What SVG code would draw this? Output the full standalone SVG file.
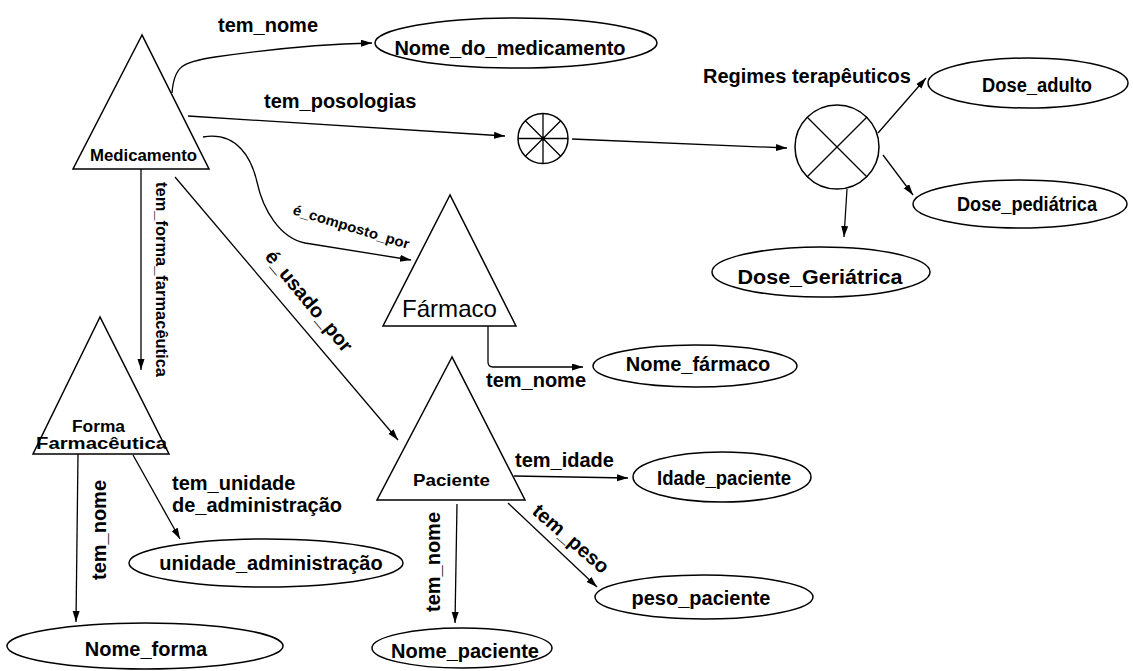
<svg xmlns="http://www.w3.org/2000/svg" width="1133" height="671" viewBox="0 0 1133 671">
  <style>
    .shape { fill: none; stroke: #000; stroke-width: 1.5; }
    .conn { fill: none; stroke: #000; stroke-width: 1.3; marker-end: url(#arrow); }
    .line { fill: none; stroke: #000; stroke-width: 1.3; }
    text { font-family: "Liberation Sans", Arial, sans-serif; font-weight: bold; fill: #000; }
    .lbl { font-size: 20px; }
    .val { font-size: 20px; text-anchor: middle; }
    .cls { font-size: 16px; }
    .big { font-size: 24px; font-weight: normal; }
  </style>
  <defs>
    <marker id="arrow" markerUnits="userSpaceOnUse" markerWidth="12" markerHeight="8" refX="11" refY="3.5" orient="auto">
      <path d="M0,0 L11,3.5 L0,7 z" fill="#000"/>
    </marker>
  </defs>
  <rect width="1133" height="671" fill="#fff"/>

  <!-- connectors -->
  <g id="connectors">
    <path class="conn" d="M172,93 C174,66 182,62 215,57 C270,49 330,44 372,43"/>
    <path class="conn" d="M188,116 L505,136"/>
    <path class="conn" d="M572,139 L787,148"/>
    <path class="conn" d="M878,133 L926,78"/>
    <path class="conn" d="M883,155 L913,195"/>
    <path class="conn" d="M847,189 L844,237"/>
    <path class="conn" d="M203,137 C238,131 252,160 257,182 C263,210 280,238 305,243 L411,260"/>
    <path class="conn" d="M175,177 L398,440"/>
    <path class="conn" d="M141,169 L141,370"/>
    <path class="conn" d="M78,454 L76,622"/>
    <path class="conn" d="M133,455 L180,539"/>
    <path class="conn" d="M488,326 L488,362 Q488,367 493,367 L583,367"/>
    <path class="conn" d="M514,476 L628,478"/>
    <path class="conn" d="M508,503 L597,587"/>
    <path class="conn" d="M457,504 L455,623"/>

    <text class="lbl" x="218" y="32">tem_nome</text>
    <text class="lbl" x="264" y="108">tem_posologias</text>
    <text class="lbl" x="703" y="83">Regimes terapêuticos</text>
    <text font-size="14" transform="translate(292,214) rotate(16.8)" textLength="121" lengthAdjust="spacingAndGlyphs">é_composto_por</text>
    <text class="lbl" transform="translate(264,257) rotate(50.5)" textLength="125" lengthAdjust="spacingAndGlyphs">é_usado_por</text>
    <text font-size="16.5" transform="translate(156,182) rotate(90)" textLength="195" lengthAdjust="spacingAndGlyphs">tem_forma_farmacêutica</text>
    <text class="lbl" transform="translate(106,580) rotate(-90)" textLength="100" lengthAdjust="spacingAndGlyphs">tem_nome</text>
    <text class="lbl" x="172" y="490">tem_unidade</text>
    <text class="lbl" x="172" y="512">de_administração</text>
    <text class="lbl" x="486" y="387">tem_nome</text>
    <text class="lbl" x="515" y="467">tem_idade</text>
    <text class="lbl" transform="translate(531,513) rotate(41)" textLength="94" lengthAdjust="spacingAndGlyphs">tem_peso</text>
    <text class="lbl" transform="translate(440,612) rotate(-90)" textLength="100" lengthAdjust="spacingAndGlyphs">tem_nome</text>
  </g>

  <!-- class nodes (triangles) -->
  <g id="medicamento">
    <path class="shape" d="M142,35 L73,169 L209,169 Z"/>
    <text class="cls" x="90" y="161" textLength="107" lengthAdjust="spacingAndGlyphs">Medicamento</text>
  </g>
  <g id="farmaco">
    <path class="shape" d="M450,195 L383,326 L516,326 Z"/>
    <text class="big" x="402" y="317" textLength="95" lengthAdjust="spacingAndGlyphs">Fármaco</text>
  </g>
  <g id="forma-farmaceutica">
    <path class="shape" d="M100,317 L33,454 L169,454 Z"/>
    <text class="cls" x="72" y="432" textLength="53" lengthAdjust="spacingAndGlyphs">Forma</text>
    <text class="cls" x="36" y="449" textLength="131" lengthAdjust="spacingAndGlyphs">Farmacêutica</text>
  </g>
  <g id="paciente">
    <path class="shape" d="M452,357 L377,500 L525,500 Z"/>
    <text class="cls" x="413" y="486" textLength="77" lengthAdjust="spacingAndGlyphs">Paciente</text>
  </g>

  <!-- aggregation / choice nodes -->
  <g id="posologias">
    <circle class="shape" cx="543" cy="138.5" r="25"/>
    <path class="line" d="M543,113.5 V163.5 M518,138.5 H568 M525.3,120.8 L560.7,156.2 M560.7,120.8 L525.3,156.2"/>
    <circle cx="543" cy="138.5" r="2" fill="#000"/>
  </g>
  <g id="regimes">
    <circle class="shape" cx="837" cy="147" r="42"/>
    <path class="line" d="M807,117 L867,177 M867,117 L807,177"/>
  </g>

  <!-- attribute nodes (ellipses) -->
  <g id="nome-do-medicamento">
    <ellipse class="shape" cx="516" cy="43" rx="141" ry="25"/>
    <text class="val" x="510" y="55">Nome_do_medicamento</text>
  </g>
  <g id="dose-adulto">
    <ellipse class="shape" cx="1028" cy="83" rx="100" ry="25"/>
    <text class="val" x="1037" y="92" textLength="110" lengthAdjust="spacingAndGlyphs">Dose_adulto</text>
  </g>
  <g id="dose-pediatrica">
    <ellipse class="shape" cx="1020" cy="204" rx="107" ry="24"/>
    <text class="val" x="1027" y="211" textLength="140" lengthAdjust="spacingAndGlyphs">Dose_pediátrica</text>
  </g>
  <g id="dose-geriatrica">
    <ellipse class="shape" cx="821" cy="272" rx="109" ry="25"/>
    <text class="val" x="820" y="284" textLength="165" lengthAdjust="spacingAndGlyphs">Dose_Geriátrica</text>
  </g>
  <g id="nome-farmaco">
    <ellipse class="shape" cx="695" cy="366" rx="102" ry="21"/>
    <text class="val" x="698" y="371">Nome_fármaco</text>
  </g>
  <g id="idade-paciente">
    <ellipse class="shape" cx="722" cy="477" rx="89" ry="25"/>
    <text class="val" x="724" y="485" textLength="134" lengthAdjust="spacingAndGlyphs">Idade_paciente</text>
  </g>
  <g id="peso-paciente">
    <ellipse class="shape" cx="704" cy="597" rx="109" ry="22"/>
    <text class="val" x="701" y="605">peso_paciente</text>
  </g>
  <g id="nome-paciente">
    <ellipse class="shape" cx="462" cy="648" rx="90" ry="20"/>
    <text class="val" x="465" y="658">Nome_paciente</text>
  </g>
  <g id="unidade-administracao">
    <ellipse class="shape" cx="266" cy="563" rx="137" ry="24"/>
    <text class="val" x="271" y="570">unidade_administração</text>
  </g>
  <g id="nome-forma">
    <ellipse class="shape" cx="145" cy="646" rx="138" ry="23"/>
    <text class="val" x="146" y="656">Nome_forma</text>
  </g>
</svg>
